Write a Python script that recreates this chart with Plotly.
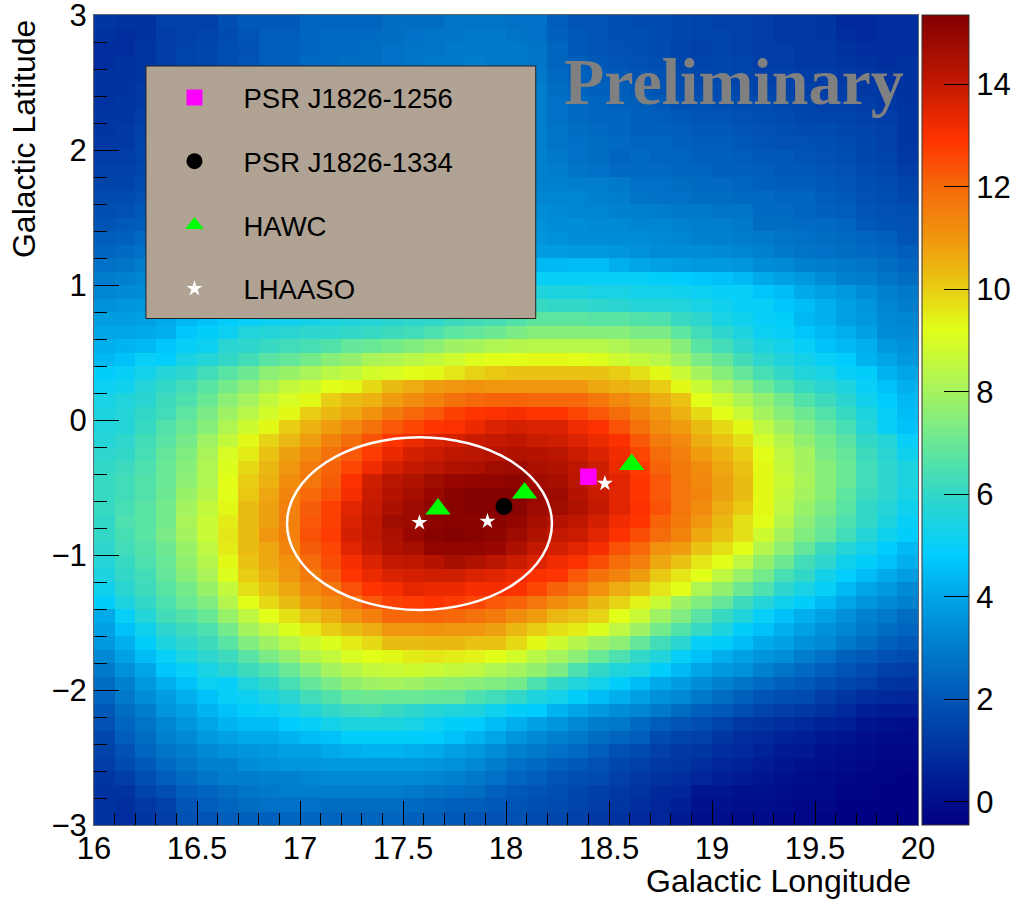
import plotly.graph_objects as go

# ---------- heat-map rows, top (b=2.95) to bottom (b=-2.95), l=16.05..19.95
row_00 = [1.1,1.0,1.0,1.4,1.4,1.4,1.8,2.1,2.1,2.1,2.4,2.4,2.4,2.4,2.6,2.6,2.6,2.8,2.8,2.8,2.7,2.7,2.2,2.0,2.0,1.8,1.7,1.7,1.6,1.5,1.4,1.4,1.3,1.2,1.2,1.1,0.8,0.8,0.9,0.9]
row_01 = [1.0,0.9,1.0,1.3,1.4,1.5,1.7,2.0,2.2,2.2,2.4,2.5,2.5,2.5,2.6,2.7,2.8,2.8,2.9,2.9,2.8,2.7,2.3,2.1,2.0,1.8,1.8,1.7,1.6,1.5,1.5,1.4,1.3,1.2,1.2,1.1,0.9,0.8,0.9,0.9]
row_02 = [0.9,0.9,1.1,1.3,1.5,1.6,1.8,1.9,2.2,2.3,2.4,2.5,2.5,2.6,2.7,2.8,2.8,2.9,2.9,2.9,2.9,2.8,2.4,2.1,2.0,1.9,1.8,1.7,1.5,1.4,1.5,1.4,1.3,1.3,1.2,1.2,1.0,0.9,0.9,0.9]
row_03 = [0.9,1.0,1.1,1.3,1.5,1.6,1.8,2.0,2.2,2.3,2.5,2.5,2.6,2.6,2.7,2.8,2.9,2.9,3.0,2.9,2.9,2.8,2.4,2.2,2.1,2.0,1.9,1.8,1.6,1.5,1.6,1.5,1.3,1.3,1.2,1.2,1.1,1.0,0.9,1.0]
row_04 = [1.0,1.0,1.1,1.4,1.5,1.7,1.9,2.1,2.3,2.4,2.5,2.6,2.7,2.7,2.8,2.9,2.9,3.0,3.0,3.0,3.0,2.9,2.5,2.3,2.2,2.1,2.0,1.9,1.7,1.6,1.6,1.5,1.4,1.4,1.3,1.3,1.2,1.1,1.0,1.0]
row_05 = [1.0,1.0,1.2,1.4,1.6,1.8,2.0,2.2,2.3,2.5,2.6,2.6,2.7,2.8,2.9,2.9,3.0,3.0,3.1,3.1,3.0,3.0,2.6,2.4,2.3,2.2,2.1,2.0,1.8,1.7,1.7,1.6,1.5,1.5,1.4,1.3,1.3,1.2,1.1,1.0]
row_06 = [1.0,1.1,1.2,1.5,1.7,1.9,2.1,2.3,2.4,2.5,2.6,2.7,2.8,2.9,2.9,3.0,3.1,3.1,3.1,3.1,3.1,3.0,2.7,2.5,2.4,2.3,2.2,2.1,1.9,1.9,1.8,1.7,1.7,1.6,1.5,1.4,1.4,1.3,1.2,1.0]
row_07 = [1.1,1.1,1.3,1.5,1.8,2.0,2.2,2.3,2.5,2.6,2.7,2.8,2.9,2.9,3.0,3.1,3.1,3.2,3.2,3.2,3.1,3.0,2.7,2.5,2.4,2.4,2.3,2.2,2.1,2.0,2.0,1.9,1.8,1.7,1.6,1.5,1.5,1.4,1.3,1.1]
row_08 = [1.1,1.2,1.4,1.6,1.9,2.1,2.3,2.4,2.6,2.7,2.8,2.9,2.9,3.0,3.1,3.1,3.2,3.2,3.2,3.2,3.2,3.0,2.8,2.6,2.5,2.4,2.3,2.3,2.2,2.1,2.1,2.0,1.9,1.8,1.7,1.7,1.6,1.5,1.4,1.1]
row_09 = [1.2,1.2,1.5,1.7,2.0,2.2,2.4,2.5,2.7,2.8,2.9,3.0,3.0,3.1,3.1,3.2,3.2,3.3,3.3,3.3,3.2,3.0,2.8,2.7,2.6,2.5,2.4,2.4,2.3,2.2,2.2,2.1,2.0,1.9,1.9,1.8,1.7,1.6,1.4,1.1]
row_10 = [1.3,1.3,1.5,1.8,2.1,2.3,2.5,2.6,2.8,2.9,3.0,3.0,3.1,3.1,3.2,3.2,3.3,3.3,3.3,3.3,3.2,3.1,2.9,2.7,2.6,2.4,2.5,2.4,2.4,2.3,2.3,2.2,2.1,2.1,2.0,1.9,1.8,1.6,1.5,1.2]
row_11 = [1.4,1.4,1.6,1.9,2.2,2.4,2.6,2.7,2.9,3.0,3.0,3.1,3.1,3.2,3.2,3.3,3.3,3.3,3.3,3.3,3.2,3.1,3.0,2.8,2.7,2.5,2.5,2.5,2.4,2.4,2.3,2.3,2.2,2.1,2.1,2.0,1.9,1.7,1.6,1.3]
row_12 = [1.5,1.5,1.7,2.0,2.3,2.5,2.7,2.9,3.0,3.1,3.1,3.2,3.2,3.3,3.3,3.3,3.4,3.4,3.4,3.3,3.2,3.1,3.1,3.0,3.0,2.9,2.7,2.7,2.6,2.5,2.5,2.4,2.3,2.2,2.2,2.1,2.0,1.8,1.7,1.5]
row_13 = [1.7,1.7,1.9,2.1,2.4,2.7,2.9,3.0,3.1,3.2,3.2,3.3,3.3,3.4,3.4,3.4,3.4,3.4,3.4,3.3,3.3,3.2,3.2,3.2,3.1,3.0,2.8,2.7,2.7,2.6,2.6,2.5,2.5,2.4,2.4,2.2,2.1,1.9,1.8,1.6]
row_14 = [1.8,1.9,2.1,2.3,2.6,2.8,3.0,3.1,3.2,3.3,3.3,3.4,3.4,3.4,3.5,3.5,3.5,3.5,3.5,3.5,3.4,3.4,3.3,3.2,3.2,3.1,3.1,3.0,2.9,2.9,2.8,2.8,2.5,2.5,2.4,2.3,2.2,2.0,1.9,1.8]
row_15 = [2.0,2.1,2.2,2.5,2.8,3.0,3.1,3.2,3.3,3.4,3.4,3.5,3.5,3.5,3.5,3.6,3.6,3.6,3.6,3.6,3.5,3.5,3.4,3.4,3.3,3.3,3.2,3.2,3.1,3.0,3.0,2.9,2.6,2.6,2.5,2.5,2.4,2.1,2.0,1.9]
row_16 = [2.2,2.3,2.5,2.7,2.9,3.1,3.3,3.4,3.4,3.5,3.5,3.6,3.6,3.6,3.6,3.7,3.7,3.7,3.7,3.7,3.6,3.6,3.5,3.4,3.4,3.4,3.4,3.3,3.2,3.1,3.1,3.0,2.9,2.8,2.7,2.6,2.5,2.4,2.3,2.0]
row_17 = [2.4,2.5,2.7,2.9,3.1,3.3,3.4,3.5,3.6,3.6,3.7,3.7,3.7,3.8,3.8,3.8,3.8,3.8,3.8,3.8,3.8,3.8,3.8,3.7,3.7,3.6,3.5,3.4,3.4,3.4,3.3,3.2,3.1,2.9,2.8,2.7,2.6,2.5,2.4,2.2]
row_18 = [2.7,2.8,3.0,3.1,3.3,3.5,3.6,3.7,3.8,3.9,3.9,4.0,4.0,4.1,4.1,4.1,4.2,4.2,4.3,4.3,4.4,4.4,4.4,4.5,4.5,4.2,4.0,3.9,3.8,3.7,3.7,3.6,3.4,3.3,3.1,3.0,2.9,2.8,2.6,2.4]
row_19 = [3.0,3.1,3.2,3.4,3.5,3.7,3.8,3.9,4.0,4.1,4.2,4.3,4.4,4.5,4.5,4.6,4.7,4.8,4.9,4.9,5.0,5.0,5.0,5.0,5.0,5.0,5.0,4.9,4.8,4.7,4.6,4.4,4.1,3.9,3.7,3.4,3.1,3.0,2.8,2.6]
row_20 = [3.2,3.3,3.4,3.6,3.8,3.9,4.1,4.2,4.3,4.5,4.6,4.7,4.8,4.9,5.0,5.0,5.1,5.2,5.3,5.4,5.5,5.6,5.5,5.5,5.4,5.4,5.3,5.3,5.2,5.1,5.0,5.0,4.7,4.5,4.1,3.9,3.7,3.4,3.1,2.9]
row_21 = [3.5,3.6,3.7,3.9,4.0,4.2,4.4,4.6,4.7,4.8,4.9,5.0,5.0,5.2,5.3,5.4,5.5,5.6,5.7,5.8,5.9,6.1,6.0,6.0,5.9,5.8,5.7,5.7,5.6,5.4,5.2,5.0,5.0,4.7,4.5,4.2,3.9,3.6,3.2,3.0]
row_22 = [3.8,3.8,3.9,4.1,4.4,4.6,4.9,5.0,5.1,5.2,5.3,5.5,5.6,5.7,5.8,5.9,6.0,6.2,6.3,6.4,6.6,6.8,6.8,6.8,6.7,6.7,6.6,6.5,6.1,5.9,5.4,5.2,5.0,4.9,4.4,4.2,3.9,3.7,3.3,3.2]
row_23 = [4.0,4.0,4.1,4.2,4.7,4.9,5.1,5.6,5.7,5.8,5.9,5.9,6.0,6.1,6.2,6.3,6.5,6.8,6.9,7.1,7.3,7.5,7.5,7.5,7.5,7.5,7.3,7.3,6.8,6.3,5.9,5.5,5.1,5.0,4.7,4.4,4.2,3.9,3.4,3.3]
row_24 = [4.2,4.3,4.4,4.7,5.0,5.1,5.8,5.9,6.1,6.3,6.4,6.6,6.9,7.0,7.2,7.4,7.6,7.9,8.0,8.2,8.3,8.4,8.4,8.4,8.4,8.2,8.0,8.0,7.5,6.7,6.3,5.9,5.5,5.3,5.0,4.6,4.4,4.2,3.7,3.5]
row_25 = [4.4,4.6,5.0,4.9,5.4,5.7,6.0,6.3,6.7,6.9,7.2,7.5,7.7,8.1,8.2,8.4,8.6,8.8,9.1,9.2,9.2,9.3,9.3,9.2,9.1,8.8,8.6,8.4,7.9,7.3,6.9,6.3,5.9,5.6,5.3,5.0,4.8,4.3,4.0,3.7]
row_26 = [4.9,5.0,5.3,5.7,5.9,6.3,6.7,7.1,7.6,7.8,8.1,8.4,8.6,8.9,9.0,9.2,9.3,9.6,9.9,10.1,10.2,10.2,10.2,10.2,10.2,10.0,9.7,9.3,8.7,8.0,7.5,6.9,6.4,6.0,5.6,5.4,5.0,4.9,4.3,4.0]
row_27 = [5.1,5.2,5.7,6.0,6.3,6.7,7.2,7.6,8.1,8.6,8.8,9.2,9.3,9.8,10.3,10.6,10.9,11.0,11.1,11.0,11.0,11.0,11.0,11.0,10.7,10.5,10.3,10.0,9.3,8.7,8.1,7.6,7.0,6.5,6.1,5.8,5.5,5.0,4.6,4.2]
row_28 = [5.4,5.6,5.8,6.2,6.5,7.0,7.6,8.0,8.6,9.0,9.3,10.0,10.3,10.5,10.9,11.2,11.5,11.8,12.0,12.1,12.1,12.0,12.0,12.0,11.7,11.3,11.0,10.6,10.2,9.2,8.8,8.2,7.7,7.2,6.6,6.2,5.8,5.2,4.8,4.4]
row_29 = [5.5,5.7,6.0,6.3,6.8,7.3,7.9,8.4,8.9,9.3,10.0,10.4,10.7,11.1,11.6,12.0,12.3,12.7,12.9,13.0,13.1,12.9,12.9,12.6,12.3,11.9,11.4,11.0,10.5,9.8,9.2,8.7,8.0,7.5,7.1,6.6,6.1,5.5,5.0,4.5]
row_30 = [5.6,5.7,6.1,6.6,7.0,7.5,8.2,8.8,9.3,10.0,10.5,10.9,11.3,11.8,12.3,12.6,12.9,13.0,13.3,13.6,13.7,13.6,13.6,13.2,13.0,12.4,11.8,11.2,10.9,10.3,9.8,9.3,8.5,7.9,7.4,6.9,6.4,5.7,5.0,4.6]
row_31 = [5.7,5.9,6.3,6.7,7.2,7.9,8.6,9.3,9.9,10.4,10.9,11.4,11.9,12.4,12.9,13.3,13.6,13.7,13.9,14.0,14.1,13.9,13.8,13.6,13.3,13.0,12.3,11.6,11.3,10.6,10.2,9.7,8.9,8.3,7.7,7.2,6.7,6.0,5.7,5.0]
row_32 = [5.9,6.0,6.4,6.9,7.4,8.1,9.0,9.5,10.2,10.8,11.3,11.8,12.3,12.8,13.3,13.7,13.9,14.1,14.2,14.3,14.4,14.3,14.2,13.9,13.6,13.2,12.6,11.9,11.5,10.9,10.5,10.0,9.2,8.5,8.0,7.3,6.9,6.2,5.8,5.2]
row_33 = [6.0,6.2,6.5,7.0,7.5,8.2,9.1,9.8,10.4,11.0,11.6,12.1,12.6,13.2,13.7,14.0,14.2,14.4,14.5,14.7,14.8,14.5,14.4,14.1,13.8,13.3,12.8,12.1,11.6,11.2,10.7,10.2,9.3,8.6,8.0,7.5,7.0,6.3,5.9,5.5]
row_34 = [6.1,6.3,6.6,7.0,7.6,8.2,9.2,10.0,10.5,11.2,11.7,12.2,13.0,13.8,14.2,14.4,14.7,14.9,15.0,15.0,15.1,14.7,14.6,14.2,13.8,13.5,12.9,12.3,11.7,11.3,10.8,10.3,9.3,8.7,8.1,7.5,7.0,6.3,5.9,5.5]
row_35 = [6.1,6.3,6.6,7.1,7.8,8.3,9.2,10.1,10.7,11.4,12.0,12.4,13.1,13.9,14.3,14.6,14.9,15.2,15.3,15.3,15.3,14.9,14.8,14.3,13.9,13.5,12.9,12.3,11.7,11.4,10.8,10.3,9.3,8.6,8.0,7.5,6.8,6.2,5.9,5.4]
row_36 = [6.1,6.4,6.7,7.2,8.0,8.6,9.3,10.3,10.8,11.5,12.2,12.7,13.5,14.0,14.5,14.8,15.1,15.2,15.3,15.3,15.2,14.8,14.7,14.4,14.0,13.5,13.0,12.4,11.7,11.2,10.6,10.1,9.3,8.5,7.8,7.3,6.7,6.0,5.7,5.2]
row_37 = [6.0,6.5,6.7,7.2,8.1,8.7,9.5,10.3,10.8,11.5,12.3,12.7,13.6,14.1,14.7,14.8,15.1,15.2,15.2,15.2,15.0,14.6,14.3,14.1,13.7,13.2,12.9,12.1,11.6,11.0,10.4,9.7,9.2,8.3,7.6,7.1,6.5,6.0,5.5,5.0]
row_38 = [6.0,6.4,6.7,7.3,8.0,8.7,9.6,10.3,11.0,11.5,12.4,12.8,13.7,14.1,14.5,14.9,15.2,15.3,15.2,15.1,14.8,14.4,14.0,13.9,13.5,13.0,12.5,11.9,11.4,10.7,10.2,9.7,8.8,8.0,7.4,6.9,6.3,5.7,5.2,4.9]
row_39 = [5.9,6.3,6.6,7.1,7.8,8.5,9.5,10.3,10.7,11.4,12.2,12.6,13.5,14.0,14.4,14.6,15.0,15.0,15.0,14.9,14.5,14.0,13.7,13.5,13.1,12.4,12.0,11.1,10.9,10.2,9.7,9.2,8.3,7.6,6.9,6.2,5.7,5.3,4.8,4.4]
row_40 = [5.7,6.1,6.5,7.0,7.7,8.3,9.3,10.2,10.7,11.1,11.9,12.5,13.1,13.6,14.0,14.1,14.3,14.6,14.4,14.2,13.9,13.6,13.2,13.0,12.5,11.9,11.5,10.7,10.2,9.6,9.2,8.5,7.7,7.1,6.3,5.9,5.2,4.9,4.6,4.2]
row_41 = [5.5,6.0,6.3,6.9,7.5,8.1,9.1,10.0,10.5,11.0,11.6,12.2,12.9,13.3,13.6,13.7,13.8,13.8,13.6,13.5,13.3,13.0,12.9,12.3,11.8,11.4,10.9,10.1,9.6,9.2,8.5,7.8,7.2,6.4,6.0,5.3,4.9,4.5,4.1,3.8]
row_42 = [5.2,5.8,6.2,6.7,7.2,7.8,8.6,9.7,10.2,10.7,11.3,11.7,12.4,12.9,13.1,13.4,13.3,13.3,13.1,13.1,13.0,12.6,12.1,11.7,11.1,10.6,10.2,9.6,9.2,8.2,7.7,7.1,6.5,5.9,5.4,5.0,4.4,4.0,3.7,3.3]
row_43 = [4.9,5.5,6.0,6.5,7.0,7.4,8.3,9.2,9.8,10.3,10.9,11.3,11.7,12.3,12.7,12.8,12.9,12.8,12.6,12.3,12.1,11.7,11.2,10.9,10.4,9.9,9.4,8.7,7.9,7.4,6.9,6.2,5.7,5.2,4.9,4.4,4.0,3.6,3.3,3.1]
row_44 = [4.1,5.0,5.7,6.3,6.6,7.0,7.8,8.5,9.2,9.7,10.2,10.6,11.1,11.5,12.0,12.0,12.1,12.0,11.8,11.6,11.2,10.9,10.4,10.2,9.9,9.2,8.7,7.9,7.4,6.7,6.1,5.6,5.0,4.6,4.2,3.9,3.5,3.1,2.9,2.6]
row_45 = [3.9,4.6,5.2,5.9,6.2,6.5,7.2,8.0,8.5,9.1,9.5,10.0,10.3,10.6,11.0,11.0,11.1,11.0,11.0,10.8,10.4,10.0,9.7,9.5,9.1,8.5,7.9,7.2,6.6,6.1,5.5,4.9,4.6,4.2,3.9,3.5,3.2,2.9,2.6,2.4]
row_46 = [3.7,4.2,4.9,5.5,5.9,6.2,6.7,7.4,7.9,8.4,8.8,9.1,9.5,9.8,10.3,10.3,10.4,10.4,10.2,10.2,9.8,9.3,8.8,8.3,7.9,7.6,6.9,6.3,5.8,5.0,4.9,4.5,4.1,3.9,3.5,3.3,2.9,2.6,2.3,2.1]
row_47 = [3.3,3.9,4.5,5.0,5.5,5.9,6.2,6.7,7.3,7.7,8.3,8.6,9.0,9.2,9.3,9.5,9.6,9.5,9.4,9.2,8.9,8.4,8.0,7.6,7.0,6.5,6.0,5.6,5.0,4.6,4.2,3.9,3.6,3.4,3.0,2.7,2.3,2.1,1.9,1.7]
row_48 = [2.9,3.5,4.0,4.7,5.0,5.4,5.8,6.2,6.5,7.0,7.5,8.0,8.3,8.6,8.7,8.8,8.7,8.6,8.5,8.2,8.0,7.7,7.3,6.5,6.0,5.6,5.4,4.9,4.4,4.0,3.7,3.5,3.1,2.8,2.5,2.2,2.0,1.7,1.4,1.3]
row_49 = [2.6,3.1,3.7,4.2,4.6,5.1,5.0,5.6,6.0,6.4,6.9,7.3,7.7,7.9,8.0,7.9,7.7,7.6,7.5,7.4,7.2,6.5,6.0,5.6,5.3,4.9,4.5,4.1,3.8,3.4,3.1,2.8,2.5,2.3,2.1,1.8,1.6,1.4,1.1,1.0]
row_50 = [2.4,2.9,3.4,3.8,4.2,4.6,5.0,5.1,5.5,5.8,6.3,6.6,7.0,7.1,7.0,7.0,6.9,6.9,6.5,6.3,6.0,5.5,5.3,4.9,4.5,4.2,3.9,3.5,3.3,2.9,2.6,2.3,2.0,1.8,1.7,1.3,1.1,0.9,0.8,0.7]
row_51 = [2.1,2.6,3.0,3.6,3.9,4.3,4.6,4.9,5.0,5.3,5.6,6.0,6.2,6.3,6.1,5.9,5.7,5.6,5.5,5.2,4.9,4.8,4.3,4.0,3.7,3.4,3.2,2.9,2.6,2.3,2.1,1.8,1.5,1.3,1.2,1.0,0.8,0.5,0.4,0.4]
row_52 = [1.9,2.4,2.8,3.2,3.6,4.0,4.3,4.5,4.5,4.8,5.0,5.3,5.5,5.5,5.5,5.4,5.1,4.9,4.8,4.5,4.2,3.9,3.6,3.3,3.0,2.9,2.5,2.2,2.0,1.8,1.5,1.2,1.0,0.9,0.8,0.6,0.5,0.2,0.1,0.0]
row_53 = [1.6,2.2,2.6,3.1,3.3,3.7,3.9,4.1,4.1,4.3,4.5,4.6,4.9,4.9,4.9,4.9,4.8,4.6,4.3,4.0,3.6,3.3,3.1,2.9,2.6,2.4,2.2,1.7,1.5,1.4,1.1,0.9,0.8,0.6,0.5,0.3,0.2,0.0,-0.1,-0.1]
row_54 = [1.5,1.9,2.4,2.8,3.0,3.3,3.5,3.6,3.7,3.9,3.9,4.1,4.2,4.3,4.3,4.2,4.1,3.9,3.7,3.4,3.1,2.9,2.7,2.5,2.2,1.9,1.7,1.4,1.2,1.1,0.9,0.8,0.6,0.4,0.3,0.1,0.0,-0.1,-0.2,-0.2]
row_55 = [1.3,1.7,2.1,2.5,2.8,3.1,3.1,3.4,3.5,3.6,3.6,3.7,3.7,3.7,3.7,3.7,3.6,3.5,3.3,3.0,2.7,2.5,2.3,2.1,1.9,1.6,1.4,1.2,1.1,0.9,0.7,0.6,0.4,0.2,0.1,0.0,-0.1,-0.2,-0.3,-0.3]
row_56 = [1.1,1.3,1.8,2.2,2.5,2.8,3.0,3.0,3.1,3.1,3.2,3.3,3.3,3.3,3.3,3.3,3.2,3.1,2.9,2.7,2.4,2.2,2.0,1.8,1.7,1.4,1.2,1.0,0.9,0.7,0.5,0.4,0.2,0.1,0.0,-0.1,-0.2,-0.3,-0.3,-0.4]
row_57 = [1.0,1.0,1.5,1.8,2.2,2.4,2.6,2.8,2.9,3.0,3.0,3.0,3.0,3.0,3.0,2.9,2.8,2.7,2.6,2.3,2.1,2.0,1.8,1.6,1.4,1.2,1.0,0.8,0.7,0.2,0.2,0.1,0.1,0.0,-0.1,-0.1,-0.3,-0.3,-0.4,-0.4]
row_58 = [1.0,0.9,1.2,1.4,2.0,2.2,2.4,2.6,2.7,2.7,2.7,2.6,2.6,2.6,2.6,2.5,2.4,2.3,2.2,2.1,2.0,1.8,1.7,1.5,1.3,1.1,0.9,0.7,0.5,0.1,0.1,0.0,0.0,-0.1,-0.2,-0.2,-0.4,-0.4,-0.4,-0.4]
row_59 = [1.0,0.9,1.1,1.3,1.9,2.0,2.2,2.3,2.3,2.4,2.4,2.4,2.4,2.4,2.4,2.3,2.2,2.1,2.0,1.9,1.9,1.7,1.6,1.4,1.2,1.0,0.8,0.7,0.4,0.0,0.0,-0.1,-0.1,-0.2,-0.2,-0.3,-0.4,-0.4,-0.4,-0.4]

rows_top_down = [row_00,row_01,row_02,row_03,row_04,row_05,row_06,row_07,row_08,row_09,
                 row_10,row_11,row_12,row_13,row_14,row_15,row_16,row_17,row_18,row_19,
                 row_20,row_21,row_22,row_23,row_24,row_25,row_26,row_27,row_28,row_29,
                 row_30,row_31,row_32,row_33,row_34,row_35,row_36,row_37,row_38,row_39,
                 row_40,row_41,row_42,row_43,row_44,row_45,row_46,row_47,row_48,row_49,
                 row_50,row_51,row_52,row_53,row_54,row_55,row_56,row_57,row_58,row_59]

# ---------- sources
psr1256_l = [18.40]; psr1256_b = [-0.42]
psr1334_l = [17.99]; psr1334_b = [-0.64]
hawc_l = [17.67, 18.09, 18.61]; hawc_b = [-0.66, -0.54, -0.33]
lhaaso_l = [17.58, 17.91, 18.48]; lhaaso_b = [-0.76, -0.75, -0.47]
ellipse_l = 17.58; ellipse_b = -0.767; ellipse_rl = 0.643; ellipse_rb = 0.64

# ---------- colour scale
zmin, zmax = -0.45, 15.35
stop_values = [-0.45,0.5,1,2,3,4,4.82,6,7,8,9.2,10,11,12,12.95,14,15.35]
stop_colors = ["rgb(0,0,130)","rgb(0,30,150)","rgb(0,50,160)","rgb(0,85,180)","rgb(0,125,205)",
               "rgb(0,165,230)","rgb(0,205,255)","rgb(50,215,200)","rgb(105,232,150)","rgb(165,243,95)",
               "rgb(225,255,25)","rgb(232,205,20)","rgb(240,150,15)","rgb(245,105,10)","rgb(255,50,0)",
               "rgb(195,25,0)","rgb(130,0,0)"]
colorscale = [[(v - zmin) / (zmax - zmin), c] for v, c in zip(stop_values, stop_colors)]

W, H = 1014, 904
L, R, T, B = 94, 918.5, 15, 825
def px(x): return (x - L) / (R - L)
def py(y): return (B - y) / (B - T)

FONT = "Liberation Sans"
fig = go.Figure()
fig.add_trace(go.Heatmap(
    z=rows_top_down[::-1], x0=16.05, dx=0.1, y0=-2.95, dy=0.1,
    zmin=zmin, zmax=zmax, colorscale=colorscale, showlegend=False, hoverinfo="skip",
    colorbar=dict(x=px(922.7), xanchor="left", xpad=0, ypad=0, y=0, yanchor="bottom", len=1,
                  thickness=47, outlinecolor="#333", outlinewidth=1,
                  tick0=0, dtick=2, ticks="inside", ticklen=25, tickcolor="black", tickwidth=1,
                  tickfont=dict(family=FONT, size=31, color="black"))))

def pts(name, x, y, sym, size, color):
    fig.add_trace(go.Scatter(x=x, y=y, mode="markers", name=name, legendgroup=name,
                             marker=dict(symbol=sym, size=size, color=color, line=dict(width=0)),
                             hoverinfo="skip"))
pts("PSR J1826-1256", psr1256_l, psr1256_b, "square", 16.5, "#ff00ff")
pts("PSR J1826-1334", psr1334_l, psr1334_b, "circle", 17, "#000000")
pts("HAWC", hawc_l, hawc_b, "triangle-up", 22, "#00ff00")
pts("LHAASO", lhaaso_l, lhaaso_b, "star", 12, "#ffffff")

axis = dict(showgrid=False, zeroline=False, showline=True, linecolor="#666", linewidth=1, mirror=True,
            ticks="inside", tickcolor="black", tickwidth=1, ticklabeloverflow="allow",
            tickfont=dict(family=FONT, size=31, color="black"))
fig.update_layout(
    width=W, height=H, margin=dict(l=L, r=W-R, t=T, b=H-B, autoexpand=False),
    paper_bgcolor="white", plot_bgcolor="white",
    xaxis=dict(axis, range=[16, 20], tick0=16, dtick=0.5, ticklen=24, tickformat=".3~f", ticklabelstandoff=-4,
               minor=dict(dtick=0.1, ticks="inside", ticklen=12, tickcolor="black", tickwidth=1)),
    yaxis=dict(axis, range=[-3, 3], tick0=-3, dtick=1, ticklen=25,
               minor=dict(dtick=0.2, ticks="inside", ticklen=13, tickcolor="black", tickwidth=1)),
    legend=dict(x=px(145.5), xanchor="left", y=py(73), yanchor="top", bgcolor="rgba(0,0,0,0)",
                borderwidth=0, itemwidth=88, tracegroupgap=25, itemclick=False,
                font=dict(family=FONT, size=27.5, color="black")),
    shapes=[
        dict(type="rect", xref="paper", yref="paper", x0=px(146), x1=px(536), y0=py(318.5), y1=py(66),
             fillcolor="#B0A394", line=dict(color="#222", width=1), layer="above"),
        dict(type="circle", xref="x", yref="y",
             x0=ellipse_l-ellipse_rl, x1=ellipse_l+ellipse_rl,
             y0=ellipse_b-ellipse_rb, y1=ellipse_b+ellipse_rb,
             line=dict(color="white", width=2.5), layer="above"),
    ],
    annotations=[
        dict(text="<b>Preliminary</b>", xref="paper", yref="paper", x=px(734.5), y=py(82),
             xanchor="center", yanchor="middle", showarrow=False,
             font=dict(family="Liberation Serif", size=66, color="#808080")),
        dict(text="Galactic Longitude", xref="paper", yref="paper", x=px(913), y=py(881),
             xanchor="right", yanchor="middle", showarrow=False,
             font=dict(family=FONT, size=32, color="black")),
        dict(text="Galactic Latitude", xref="paper", yref="paper", x=px(24), y=py(139),
             xanchor="center", yanchor="middle", textangle=-90, showarrow=False,
             font=dict(family=FONT, size=32, color="black")),
    ],
)
fig.write_html("out.html", config={"displayModeBar": False},
               post_script="document.body.style.margin='0';")
